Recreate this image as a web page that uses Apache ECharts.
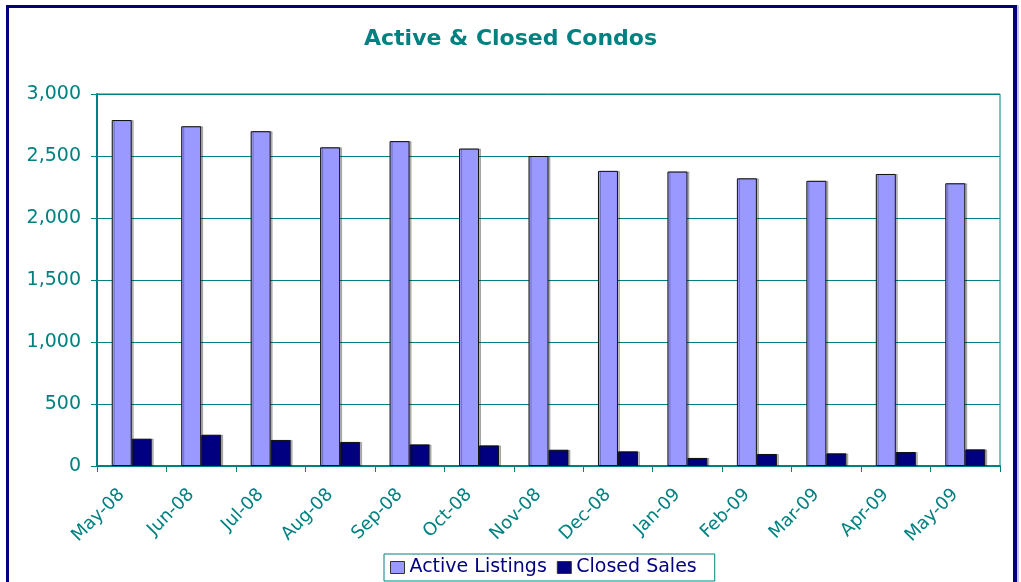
<!DOCTYPE html>
<html>
<head>
<meta charset="utf-8">
<script src="https://cdn.jsdelivr.net/npm/echarts@6/dist/echarts.min.js"></script>
<style>
  html, body { margin: 0; padding: 0; background: #fff; }
  #chart { width: 1021px; height: 582px; }
  .frame {
    position: absolute; left: 6px; top: 5px; width: 1004px; height: 600px;
    border: 3px solid #000080; border-right-width: 4px; pointer-events: none;
    box-shadow: 2px 0 0 #c8c8e0;
  }
</style>
</head>
<body>
<div id="chart"></div>
<div class="frame"></div>
<script>
// months on the x axis
const months = ['May-08', 'Jun-08', 'Jul-08', 'Aug-08', 'Sep-08', 'Oct-08', 'Nov-08',
  'Dec-08', 'Jan-09', 'Feb-09', 'Mar-09', 'Apr-09', 'May-09']
// active listings per month
const activeListings = [2790, 2740, 2700, 2570, 2620, 2560, 2500, 2380, 2375, 2320, 2300, 2355, 2280]
// closed sales per month
const closedSales = [220, 252, 210, 194, 174, 166, 131, 118, 65, 97, 102, 113, 134]
const legendList = ['Active Listings', 'Closed Sales']
const barColors = ['#9999ff', '#000080']

const teal = '#008080'
const font = 'DejaVu Sans'

let myChart = echarts.init(document.getElementById('chart'))

const seriesData = [activeListings, closedSales]
let seriesArray = []
legendList.forEach((name, index) => {
  seriesArray.push({
    name: name,
    type: 'bar',
    barWidth: 20,
    barGap: '0%',
    itemStyle: {
      color: barColors[index],
      borderColor: '#111',
      borderWidth: 1,
      shadowColor: 'rgba(0,0,0,0.25)',
      shadowOffsetX: 2,
      shadowBlur: 0
    },
    emphasis: { disabled: true },
    data: seriesData[index]
  })
})

myChart.setOption({
  animation: false,
  backgroundColor: '#fff',
  title: {
    text: 'Active & Closed Condos',
    left: 'center',
    top: 23,
    textStyle: {
      color: teal,
      fontFamily: font,
      fontWeight: 'bold',
      fontSize: 22
    }
  },
  grid: {
    left: 97,
    right: 21,
    top: 94,
    bottom: 116,
    show: true,
    borderColor: teal,
    borderWidth: 1,
    backgroundColor: 'transparent'
  },
  legend: {
    left: 384,
    top: 554,
    padding: [4, 18, 4, 6],
    itemGap: 10,
    itemWidth: 14,
    itemHeight: 12,
    borderColor: teal,
    borderWidth: 1,
    icon: 'rect',
    itemStyle: { borderColor: '#333', borderWidth: 1 },
    textStyle: { color: '#000080', fontFamily: font, fontSize: 19 },
    data: legendList
  },
  xAxis: {
    type: 'category',
    data: months,
    axisLine: { lineStyle: { color: teal, width: 2 } },
    axisTick: { show: true, length: 6, lineStyle: { color: teal } },
    axisLabel: {
      rotate: 45,
      margin: 16,
      padding: [0, 14, 0, 0],
      interval: 0,
      color: teal,
      fontFamily: font,
      fontSize: 18
    }
  },
  yAxis: {
    type: 'value',
    min: 0,
    max: 3000,
    interval: 500,
    axisLine: { show: true, lineStyle: { color: teal, width: 2 } },
    axisTick: { show: true, length: 6, lineStyle: { color: teal } },
    axisLabel: {
      margin: 16,
      color: teal,
      fontFamily: font,
      fontSize: 19,
      formatter: v => v.toLocaleString('en-US')
    },
    splitLine: { show: true, lineStyle: { color: teal, width: 1 } }
  },
  series: seriesArray
})
</script>
</body>
</html>
